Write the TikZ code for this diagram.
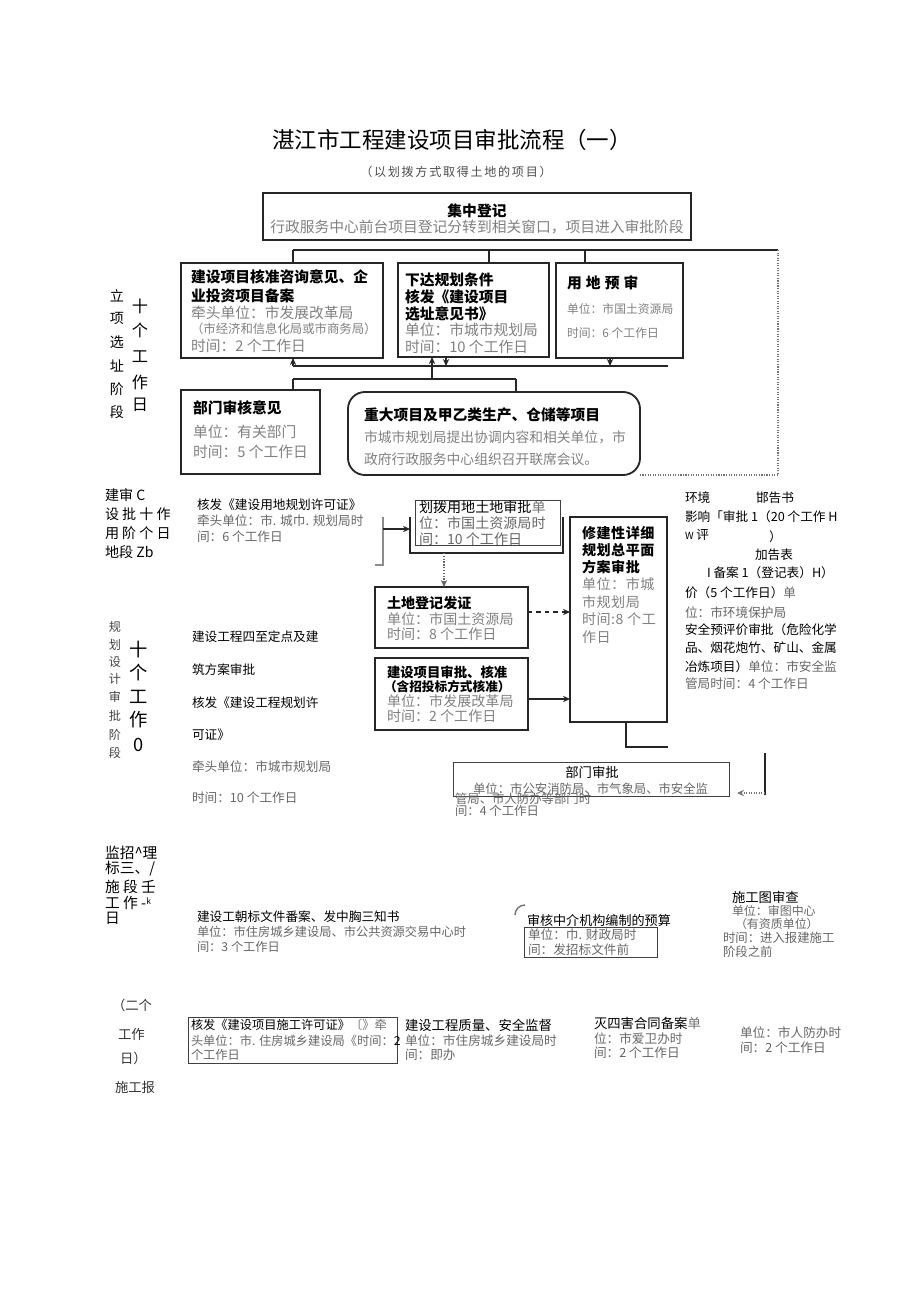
\documentclass[tikz,border=0pt]{standalone}
\usepackage{fontspec}
\setmainfont{Noto Sans CJK SC}
\usepackage{xcolor}
\usetikzlibrary{arrows.meta,fit,positioning}

\begin{document}
\begin{tikzpicture}[
  x=0.025cm, y=-0.025cm,
  every node/.style={inner sep=0pt, outer sep=0pt},
  box/.style={draw=black!85, line width=1.3pt, fit={#1}},
  tbox/.style={draw=black!75, line width=0.6pt, fit={#1}},
  hd/.style={anchor=west, font=\fontsize{10.5}{12}\bfseries\selectfont},
  gt/.style={anchor=west, text=black!50, font=\fontsize{10.5}{12}\selectfont},
  tx/.style={anchor=west, font=\fontsize{9}{11}\selectfont},
  gx/.style={anchor=west, text=black!60, font=\fontsize{9}{11}\selectfont},
  vlbl/.style={anchor=center, font=\fontsize{10}{11}\selectfont},
  wire/.style={draw=black!85, line width=1pt},
  link/.style={wire, -{Stealth[length=5pt,width=4.5pt]}},
  dotwire/.style={draw=black!55, line width=0.8pt, densely dotted},
]
\useasboundingbox (0,0) rectangle (920,1301);

%% ── title ────────────────────────────────────────────────────────────
\node[anchor=center, font=\fontsize{16}{18}\selectfont] (title) at (452,140)
  {湛江市工程建设项目审批流程（一）};
\node[anchor=center, text=black!70, font=\fontsize{8.6}{10}\selectfont\addfontfeature{LetterSpace=14}]
  (subtitle) at (456,172) {（以划拨方式取得土地的项目）};

%% ── 立项选址阶段 ─────────────────────────────────────────────────────
\node[box={(263,193) (691,240)}] (jz) {};
\node[anchor=center, font=\fontsize{10.5}{12}\bfseries\selectfont] (jzt) at (477,211) {集中登记};
\node[anchor=center, text=black!50, font=\fontsize{10.5}{12}\selectfont] (jzb) at (477,227)
  {行政服务中心前台项目登记分转到相关窗口，项目进入审批阶段};

\node[box={(181,263) (383,358)}] (xm) {};
\node[hd] at (191,277) {建设项目核准咨询意见、企};
\node[hd] at (191,296) {业投资项目备案};
\node[gt] at (191,313) {牵头单位：市发展改革局};
\node[gt, font=\fontsize{8.8}{10}\selectfont] at (191,329) {（市经济和信息化局或市商务局）};
\node[gt] at (191,346) {时间：2 个工作日};

\node[box={(398,263) (549,357)}] (gh) {};
\node[hd] at (405,280) {下达规划条件};
\node[hd] at (405,297) {核发《建设项目};
\node[hd] at (405,314) {选址意见书》};
\node[gt] at (405,330) {单位：市城市规划局};
\node[gt] at (405,347) {时间：10 个工作日};

\node[box={(556,263) (683,358)}] (yd) {};
\node[hd, font=\fontsize{10.5}{12}\bfseries\selectfont\addfontfeature{LetterSpace=28}] at (567,283) {用地预审};
\node[gt, font=\fontsize{8.4}{10}\selectfont] at (567,309) {单位：市国土资源局};
\node[gt, font=\fontsize{8.4}{10}\selectfont] at (567,333) {时间：6 个工作日};

\node[box={(181,390) (320,474)}] (bm) {};
\node[hd] at (193,408) {部门审核意见};
\node[gt] at (193,432) {单位：有关部门};
\node[gt] at (193,452) {时间：5 个工作日};

\node[box={(348,392) (640,475)}, rounded corners=12pt] (zd) {};
\node[hd] at (364,415) {重大项目及甲乙类生产、仓储等项目};
\node[gt, font=\fontsize{9.8}{11}\selectfont] at (364,437) {市城市规划局提出协调内容和相关单位，市};
\node[gt, font=\fontsize{9.8}{11}\selectfont] at (364,459) {政府行政服务中心组织召开联席会议。};

% connectors of the first stage
\coordinate (t1) at (293,250);
\coordinate (t2) at (778,250);
\coordinate (t3) at (489,250);
\coordinate (t4) at (585,250);
\coordinate (t5) at (778,475);
\draw[wire] (t1) -- (t2);
\draw[wire] (t1) -- (t1 |- xm.north);
\draw[wire] (t3) -- (t3 |- gh.north);
\draw[wire] (t4) -- (t4 |- yd.north);
\draw[dotwire] (t2) -- (t5) -- (t5 -| zd.east);

\coordinate (m1) at (293,366);
\coordinate (m2) at (668,366);
\coordinate (m3) at (432,366);
\coordinate (m4) at (446,366);
\coordinate (m5) at (610,366);
\draw[wire] (m1) -- (m2);
\draw[link] (m1) -- (m1 |- xm.south);
\draw[link] (m3) -- (m3 |- gh.south);
\draw[link] (m4 |- gh.south) -- (m4);
\draw[link] (m5 |- yd.south) -- (m5);

\coordinate (n1) at (293,379);
\coordinate (n2) at (516,379);
\draw[wire] (m3) -- (m3 |- n1);
\draw[wire] (n1) -- (n2);
\draw[wire] (n1) -- (n1 |- bm.north);
\draw[wire] (n2) -- (n2 |- zd.north);

% stage label
\foreach \c/\y in {立/296, 项/318, 选/342, 址/366, 阶/389, 段/412}
  \node[vlbl] at (117,\y) {\c};
\foreach \c/\y in {十/306, 个/330, 工/357, 作/382, 日/405}
  \node[vlbl, font=\fontsize{11.5}{12}\selectfont] at (140,\y) {\c};

%% ── 建设用地审批阶段 ─────────────────────────────────────────────────
\node[tx, font=\fontsize{10}{11}\selectfont] at (105,495) {建审 C};
\node[tx, font=\fontsize{10}{11}\selectfont] at (105,514) {设 批 十 作};
\node[tx, font=\fontsize{10}{11}\selectfont] at (105,533) {用 阶 个 日};
\node[tx, font=\fontsize{10}{11}\selectfont] at (105,552) {地段 Zb};

\node[tx] at (197,505) {核发《建设用地规划许可证》};
\node[gx] at (197,521) {牵头单位：市. 城巾. 规划局时};
\node[gx] at (197,537) {间：6 个工作日};

\node[tbox={(415,500) (560,545)}] (hb) {};
\node[tx, font=\fontsize{10}{11}\selectfont] at (419,507) {划拨用地土地审批\textcolor{black!55}{单}};
\node[gx, font=\fontsize{10}{11}\selectfont] at (419,523) {位：市国土资源局时};
\node[gx, font=\fontsize{10}{11}\selectfont] at (419,539) {间：10 个工作日};

\coordinate (h1) at (375,565);
\coordinate (h2) at (383,565);
\coordinate (h3) at (383,517);
\coordinate (h4) at (383,529);
\coordinate (h5) at (410,517);
\coordinate (h6) at (563,517);
\draw[dotwire, solid, draw=black!45] (h1) -- (h2) -- (h3);
\draw[link] (h4) -- (h4 -| h5);
\draw[wire] (h5) -- (h5 |- 0,553) -- (h6 |- 0,553) -- (h6);

\node[box={(375,587) (528,648)}] (dj) {};
\node[hd, font=\fontsize{10}{11}\bfseries\selectfont] at (387,603) {土地登记发证};
\node[gt, font=\fontsize{10}{11}\selectfont] at (387,619) {单位：市国土资源局};
\node[gt, font=\fontsize{10}{11}\selectfont] at (387,634) {时间：8 个工作日};

\node[box={(375,658) (528,730)}] (sp) {};
\node[hd, font=\fontsize{9.5}{11}\bfseries\selectfont] at (387,672) {建设项目审批、核准};
\node[hd, font=\fontsize{9}{11}\bfseries\selectfont] at (384,687) {（含招投标方式核准）};
\node[gt, font=\fontsize{10}{11}\selectfont] at (387,701) {单位：市发展改革局};
\node[gt, font=\fontsize{10}{11}\selectfont] at (387,716) {时间：2 个工作日};

\node[box={(570,517) (667,722)}] (xj) {};
\foreach \t/\y in {修建性详细/533, 规划总平面/550, 方案审批/567}
  \node[hd, font=\fontsize{10}{11}\bfseries\selectfont\addfontfeature{LetterSpace=4}] at (582,\y) {\t};
\foreach \t/\y in {单位：市城/584, 市规划局/602, 时间:8 个工/619, 作日/637}
  \node[gt, font=\fontsize{10}{11}\selectfont\addfontfeature{LetterSpace=4}] at (582,\y) {\t};

\coordinate (d1) at (444,553);
\draw[link, densely dotted, draw=black!60] (d1) -- (d1 |- dj.north);
\draw[link, dashed] (dj.east |- 0,612) -- (xj.west |- 0,612);
\draw[link] (sp.east |- 0,699) -- (xj.west |- 0,699);

\coordinate (x1) at (626,747);
\coordinate (x2) at (668,747);
\draw[wire] (x1 |- xj.south) -- (x1) -- (x2);

% 环境影响评价 / 安全预评价
\node[tx] at (685,498) {环境};
\node[tx] at (756,498) {邯告书};
\node[tx] at (685,517) {影响「审批 1（20 个工作 H};
\node[tx] at (685,535) {{\fontsize{7}{8}\selectfont W} 评};
\node[tx] at (769,537) {）};
\node[tx] at (755,555) {加告表};
\node[tx] at (707,573) {I 备案 1（登记表）H）};
\node[tx] at (685,593) {价（5 个工作日）\textcolor{black!60}{单}};
\node[gx] at (685,613) {位：市环境保护局};
\node[tx] at (685,630) {安全预评价审批（危险化学};
\node[tx] at (685,648) {品、烟花炮竹、矿山、金属};
\node[tx] at (685,667) {冶炼项目）\textcolor{black!60}{单位：市安全监}};
\node[gx] at (685,684) {管局时间：4 个工作日};

%% ── 规划设计审批阶段 ─────────────────────────────────────────────────
\foreach \c/\y in {规/627, 划/645, 设/662, 计/679, 审/697, 批/716, 阶/735, 段/753}
  \node[vlbl, text=black!75, font=\fontsize{8.6}{10}\selectfont] at (115,\y) {\c};
\foreach \c/\y in {十/650, 个/673, 工/697, 作/720, 0/745}
  \node[vlbl, font=\fontsize{13}{14}\selectfont] at (139,\y) {\c};

\node[tx] at (192,637) {建设工程四至定点及建};
\node[tx] at (192,670) {筑方案审批};
\node[tx] at (192,703) {核发《建设工程规划许};
\node[tx] at (192,735) {可证》};
\node[gx] at (192,767) {牵头单位：市城市规划局};
\node[gx] at (192,798) {时间：10 个工作日};

\node[tbox={(453,762) (729,796)}] (bmsp) {};
\node[anchor=center, font=\fontsize{9.5}{11}\selectfont] at (592,772) {部门审批};
\node[gx, font=\fontsize{8.8}{10}\selectfont] at (473,789) {单位：市公安消防局、市气象局、市安全监};
\node[gx, font=\fontsize{8.8}{10}\selectfont] at (455,799) {管局、市人防办等部门时};
\node[gx, font=\fontsize{8.8}{10}\selectfont] at (455,811) {间：4 个工作日};

\coordinate (r1) at (765,753);
\coordinate (r2) at (765,795);
\coordinate (r3) at (765,793);
\coordinate (r4) at (737,793);
\draw[wire, line width=1.3pt] (r1) -- (r2);
\draw[link, dotwire] (r3) -- (r4);

%% ── 监理招标三、施工阶段 ─────────────────────────────────────────────
\node[tx, font=\fontsize{10.5}{12}\selectfont] at (105,853) {监招\textasciicircum 理};
\node[tx, font=\fontsize{10.5}{12}\selectfont] at (105,869) {标三、/};
\node[tx, font=\fontsize{10.5}{12}\selectfont] at (105,887) {施 段 壬};
\node[tx, font=\fontsize{10.5}{12}\selectfont] at (105,903) {工 作 -\raisebox{3pt}{\fontsize{6}{6}\selectfont k}};
\node[tx, font=\fontsize{10.5}{12}\selectfont] at (105,918) {日};

\node[tx] at (197,917) {建设工朝标文件番案、发中胸三知书};
\node[gx, font=\fontsize{8.7}{10}\selectfont] at (197,932) {单位：市住房城乡建设局、市公共资源交易中心时};
\node[gx, font=\fontsize{8.7}{10}\selectfont] at (197,947) {间：3 个工作日};

\draw[black!55, line width=1pt] (515,915) to[bend left=45] (525,905);
\node[tx, font=\fontsize{9.3}{11}\selectfont] at (527,920) {审核中介机构编制的预算};
\node[tbox={(524,927) (657,957)}] (ys) {};
\node[gx] at (528,935) {单位：巾. 财政局时};
\node[gx] at (528,950) {间：发招标文件前};

\node[tx, font=\fontsize{9.5}{11}\selectfont] at (732,897) {施工图审查};
\node[gx, font=\fontsize{8.5}{10}\selectfont] at (732,911) {单位：审图中心};
\node[gx, font=\fontsize{8.5}{10}\selectfont] at (735,924) {（有资质单位）};
\node[gx, font=\fontsize{8.8}{10}\selectfont] at (723,938) {时间：进入报建施工};
\node[gx, font=\fontsize{8.8}{10}\selectfont] at (723,952) {阶段之前};

%% ── 施工报建阶段 ─────────────────────────────────────────────────────
\node[gx, text=black!80, font=\fontsize{9.5}{11}\selectfont] at (112,1005) {（二个};
\node[gx, text=black!80, font=\fontsize{9.5}{11}\selectfont] at (118,1034) {工作};
\node[gx, text=black!80, font=\fontsize{9.5}{11}\selectfont] at (120,1058) {日）};
\node[gx, text=black!80, font=\fontsize{9.5}{11}\selectfont] at (115,1087) {施工报};

\node[tbox={(188,1017) (397,1063)}] (sg) {};
\node[tx, font=\fontsize{8.7}{10}\selectfont] at (191,1025) {核发《建设项目施工许可证》\textcolor{black!55}{〔》牵}};
\node[gx, font=\fontsize{8.7}{10}\selectfont] at (191,1041) {头单位：市. 住房城乡建设局《时间：\textcolor{black}{2}};
\node[gx, font=\fontsize{8.7}{10}\selectfont] at (191,1055) {个工作日};

\node[tx, font=\fontsize{9.5}{11}\selectfont] at (405,1025) {建设工程质量、安全监督};
\node[gx] at (405,1041) {单位：市住房城乡建设局时};
\node[gx] at (405,1055) {间：即办};

\node[tx, font=\fontsize{9.5}{11}\selectfont] at (594,1023) {灭四害合同备案\textcolor{black!55}{单}};
\node[gx] at (594,1039) {位：市爱卫办时};
\node[gx] at (594,1053) {间：2 个工作日};

\node[gx] at (740,1033) {单位：市人防办时};
\node[gx] at (740,1048) {间：2 个工作日};

\end{tikzpicture}
\end{document}
